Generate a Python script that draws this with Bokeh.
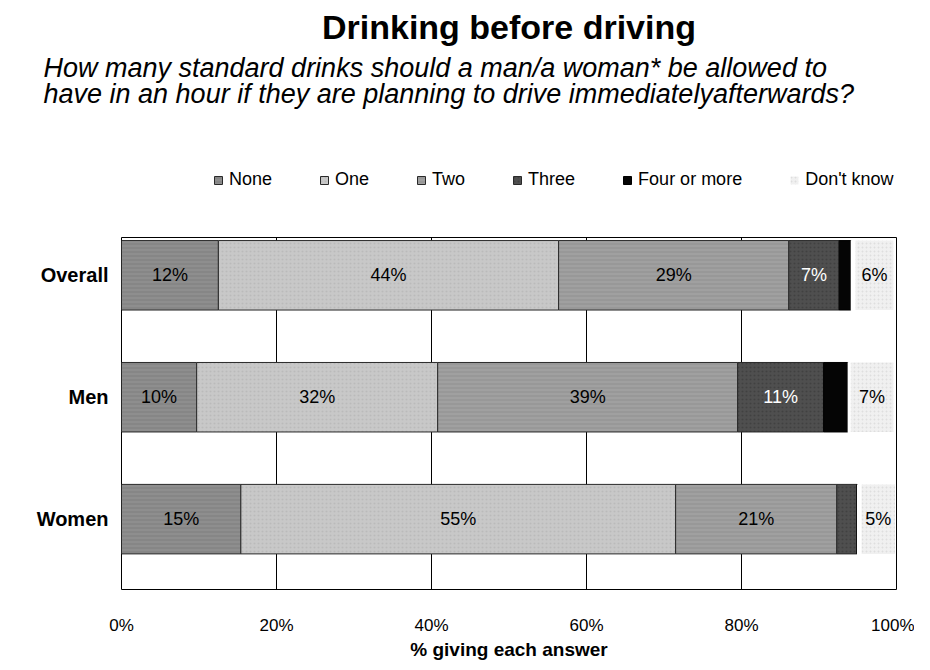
from bokeh.plotting import figure
from bokeh.models import (ColumnDataSource, Legend, LegendItem, FixedTicker, Range1d, Title)
from bokeh.layouts import column
from bokeh.embed import file_html
from bokeh.resources import INLINE
from bokeh.core.properties import value
import numpy as np

# ---------------- data ----------------
groups = ["Overall", "Men", "Women"]
group_pos = [2, 1, 0]

series_names = ["None", "One", "Two", "Three", "Four or more", "Not stated", "Don't know"]
none_v = [12.5, 9.7, 15.4]
one_v = [43.9, 31.1, 56.1]
two_v = [29.7, 38.7, 20.8]
three_v = [6.5, 11.1, 2.6]
four_v = [1.5, 3.1, 0.0]
notstated_v = [0.6, 0.4, 0.6]
dontknow_v = [4.9, 5.5, 4.3]

none_lbl = ["12%", "10%", "15%"]
one_lbl = ["44%", "32%", "55%"]
two_lbl = ["29%", "39%", "21%"]
three_lbl = ["7%", "11%", ""]
four_lbl = ["", "", ""]
notstated_lbl = ["", "", ""]
dontknow_lbl = ["6%", "7%", "5%"]

x_ticks = [0, 20, 40, 60, 80, 100]
x_tick_labels = ["0%", "20%", "40%", "60%", "80%", "100%"]

title_text = "Drinking before driving"
subtitle_1 = "How many standard drinks should a man/a woman* be allowed to"
subtitle_2 = "have in an hour if they are planning to drive immediatelyafterwards?"
x_title = "% giving each answer"

# ---------------- styles ----------------
FONT = "Liberation Sans"
fills = ["#8e8e8e", "#c8c8c8", "#a0a0a0", "#4f4f4f", "#050505", "#ffffff", "#f0f0f0"]
lines = ["#2a2a2a", "#2a2a2a", "#2a2a2a", "#2a2a2a", "#000000", None, None]
hatches = ["horizontal_line", "dot", "horizontal_line", "dot", " ", " ", "dot"]
hatch_cols = ["#6a6a6a", "#a8a8a8", "#7c7c7c", "#303030", "#000000", "#ffffff", "#c8c8c8"]
label_cols = ["#000000", "#000000", "#000000", "#ffffff", "#ffffff", "#000000", "#000000"]
show_in_legend = [True, True, True, True, True, False, True]

values = [none_v, one_v, two_v, three_v, four_v, notstated_v, dontknow_v]
labels = [none_lbl, one_lbl, two_lbl, three_lbl, four_lbl, notstated_lbl, dontknow_lbl]

W = 914
TOP_H = 225
BL, BR = 121, 18

# ---------------- header figure: titles + legend ----------------
head = figure(width=W, height=TOP_H, output_backend="svg", toolbar_location=None,
              x_axis_type=None, y_axis_type=None, x_range=Range1d(0, 100),
              y_range=Range1d(10, 11),
              min_border_left=BL, min_border_right=BR, min_border_top=0, min_border_bottom=0,
              title=None)
head.outline_line_color = None
head.xgrid.visible = False
head.ygrid.visible = False
head.background_fill_color = "white"
head.border_fill_color = "white"

# ---------------- main chart ----------------
p = figure(width=W, height=437, output_backend="svg", toolbar_location=None,
           x_range=Range1d(0, 100), y_range=Range1d(-0.577, 2.31),
           min_border_left=BL, min_border_right=BR, min_border_top=12,
           min_border_bottom=70, title=None)
p.background_fill_color = "white"
p.border_fill_color = "white"
p.outline_line_color = "#000000"
p.outline_line_width = 1

p.ygrid.visible = False
p.xgrid.ticker = FixedTicker(ticks=x_ticks)
p.xgrid.grid_line_color = "#000000"
p.xgrid.grid_line_width = 1

p.xaxis.ticker = FixedTicker(ticks=x_ticks)
p.xaxis.major_label_overrides = {t: l for t, l in zip(x_ticks, x_tick_labels)}
p.xaxis.axis_line_color = None
p.xaxis.major_tick_line_color = None
p.xaxis.minor_tick_line_color = None
p.xaxis.major_tick_out = 0
p.xaxis.major_tick_in = 0
p.xaxis.minor_tick_out = 0
p.xaxis.major_label_standoff = 26
p.xaxis.major_label_text_font = FONT
p.xaxis.major_label_text_font_size = "17px"
p.xaxis.major_label_text_color = "#000000"
p.xaxis.axis_label = x_title
p.xaxis.axis_label_text_font = FONT
p.xaxis.axis_label_text_font_size = "19px"
p.xaxis.axis_label_text_font_style = "bold"
p.xaxis.axis_label_text_color = "#000000"
p.xaxis.axis_label_standoff = 1

p.yaxis.ticker = FixedTicker(ticks=group_pos)
p.yaxis.major_label_overrides = {pos: g for pos, g in zip(group_pos, groups)}
p.yaxis.axis_line_color = None
p.yaxis.major_tick_line_color = None
p.yaxis.minor_tick_line_color = None
p.yaxis.major_tick_out = 0
p.yaxis.major_tick_in = 0
p.yaxis.minor_tick_out = 0
p.yaxis.major_label_standoff = 13
p.yaxis.major_label_text_font = FONT
p.yaxis.major_label_text_font_size = "20px"
p.yaxis.major_label_text_font_style = "bold"
p.yaxis.major_label_text_color = "#000000"

left = np.zeros(len(groups))
legend_items = []
for i, name in enumerate(series_names):
    v = np.array(values[i], dtype=float)
    right = left + v
    src = ColumnDataSource(dict(y=group_pos, left=left.copy(), right=right.copy(),
                                mid=(left + right) / 2, lbl=labels[i]))
    style = dict(fill_color=fills[i], line_color=lines[i], line_width=1,
                 hatch_pattern=hatches[i], hatch_color=hatch_cols[i],
                 hatch_alpha=0.45, hatch_scale=4, hatch_weight=1)
    p.hbar(y="y", left="left", right="right", height=0.57, source=src, **style)
    p.text(x="mid", y="y", text="lbl", source=src, text_align="center",
           text_baseline="middle", text_font=value(FONT), text_font_size="18px",
           text_color=label_cols[i])
    if show_in_legend[i]:
        # hidden twin of the series in the header, used only for the legend swatch
        lr = head.hbar(y="y", left="left", right="right", height=0.57, source=src,
                       visible=False, **style)
        legend_items.append(LegendItem(label=name, renderers=[lr]))
    left = right

legend = Legend(items=legend_items, orientation="horizontal", location=(92, 35),
                label_text_font=FONT, label_text_font_size="18px",
                label_text_color="#000000", glyph_width=10, glyph_height=10,
                label_standoff=6, spacing=47, padding=0, margin=0,
                border_line_color=None, background_fill_alpha=0,
                click_policy="none")
head.add_layout(legend, "center")

# titles: first added sits closest to the frame
head.add_layout(Title(text=subtitle_1 + "\n" + subtitle_2, align="left", offset=-78,
                      standoff=0, text_font=FONT, text_font_size="27px",
                      text_font_style="italic", text_color="#000000",
                      text_line_height=0.85), "above")
head.add_layout(Title(text=title_text, align="center", standoff=10,
                      text_font=FONT, text_font_size="34px", text_font_style="bold",
                      text_color="#000000"), "above")

layout = column(head, p, spacing=0)
open("out.html", "w").write(file_html(layout, INLINE))
